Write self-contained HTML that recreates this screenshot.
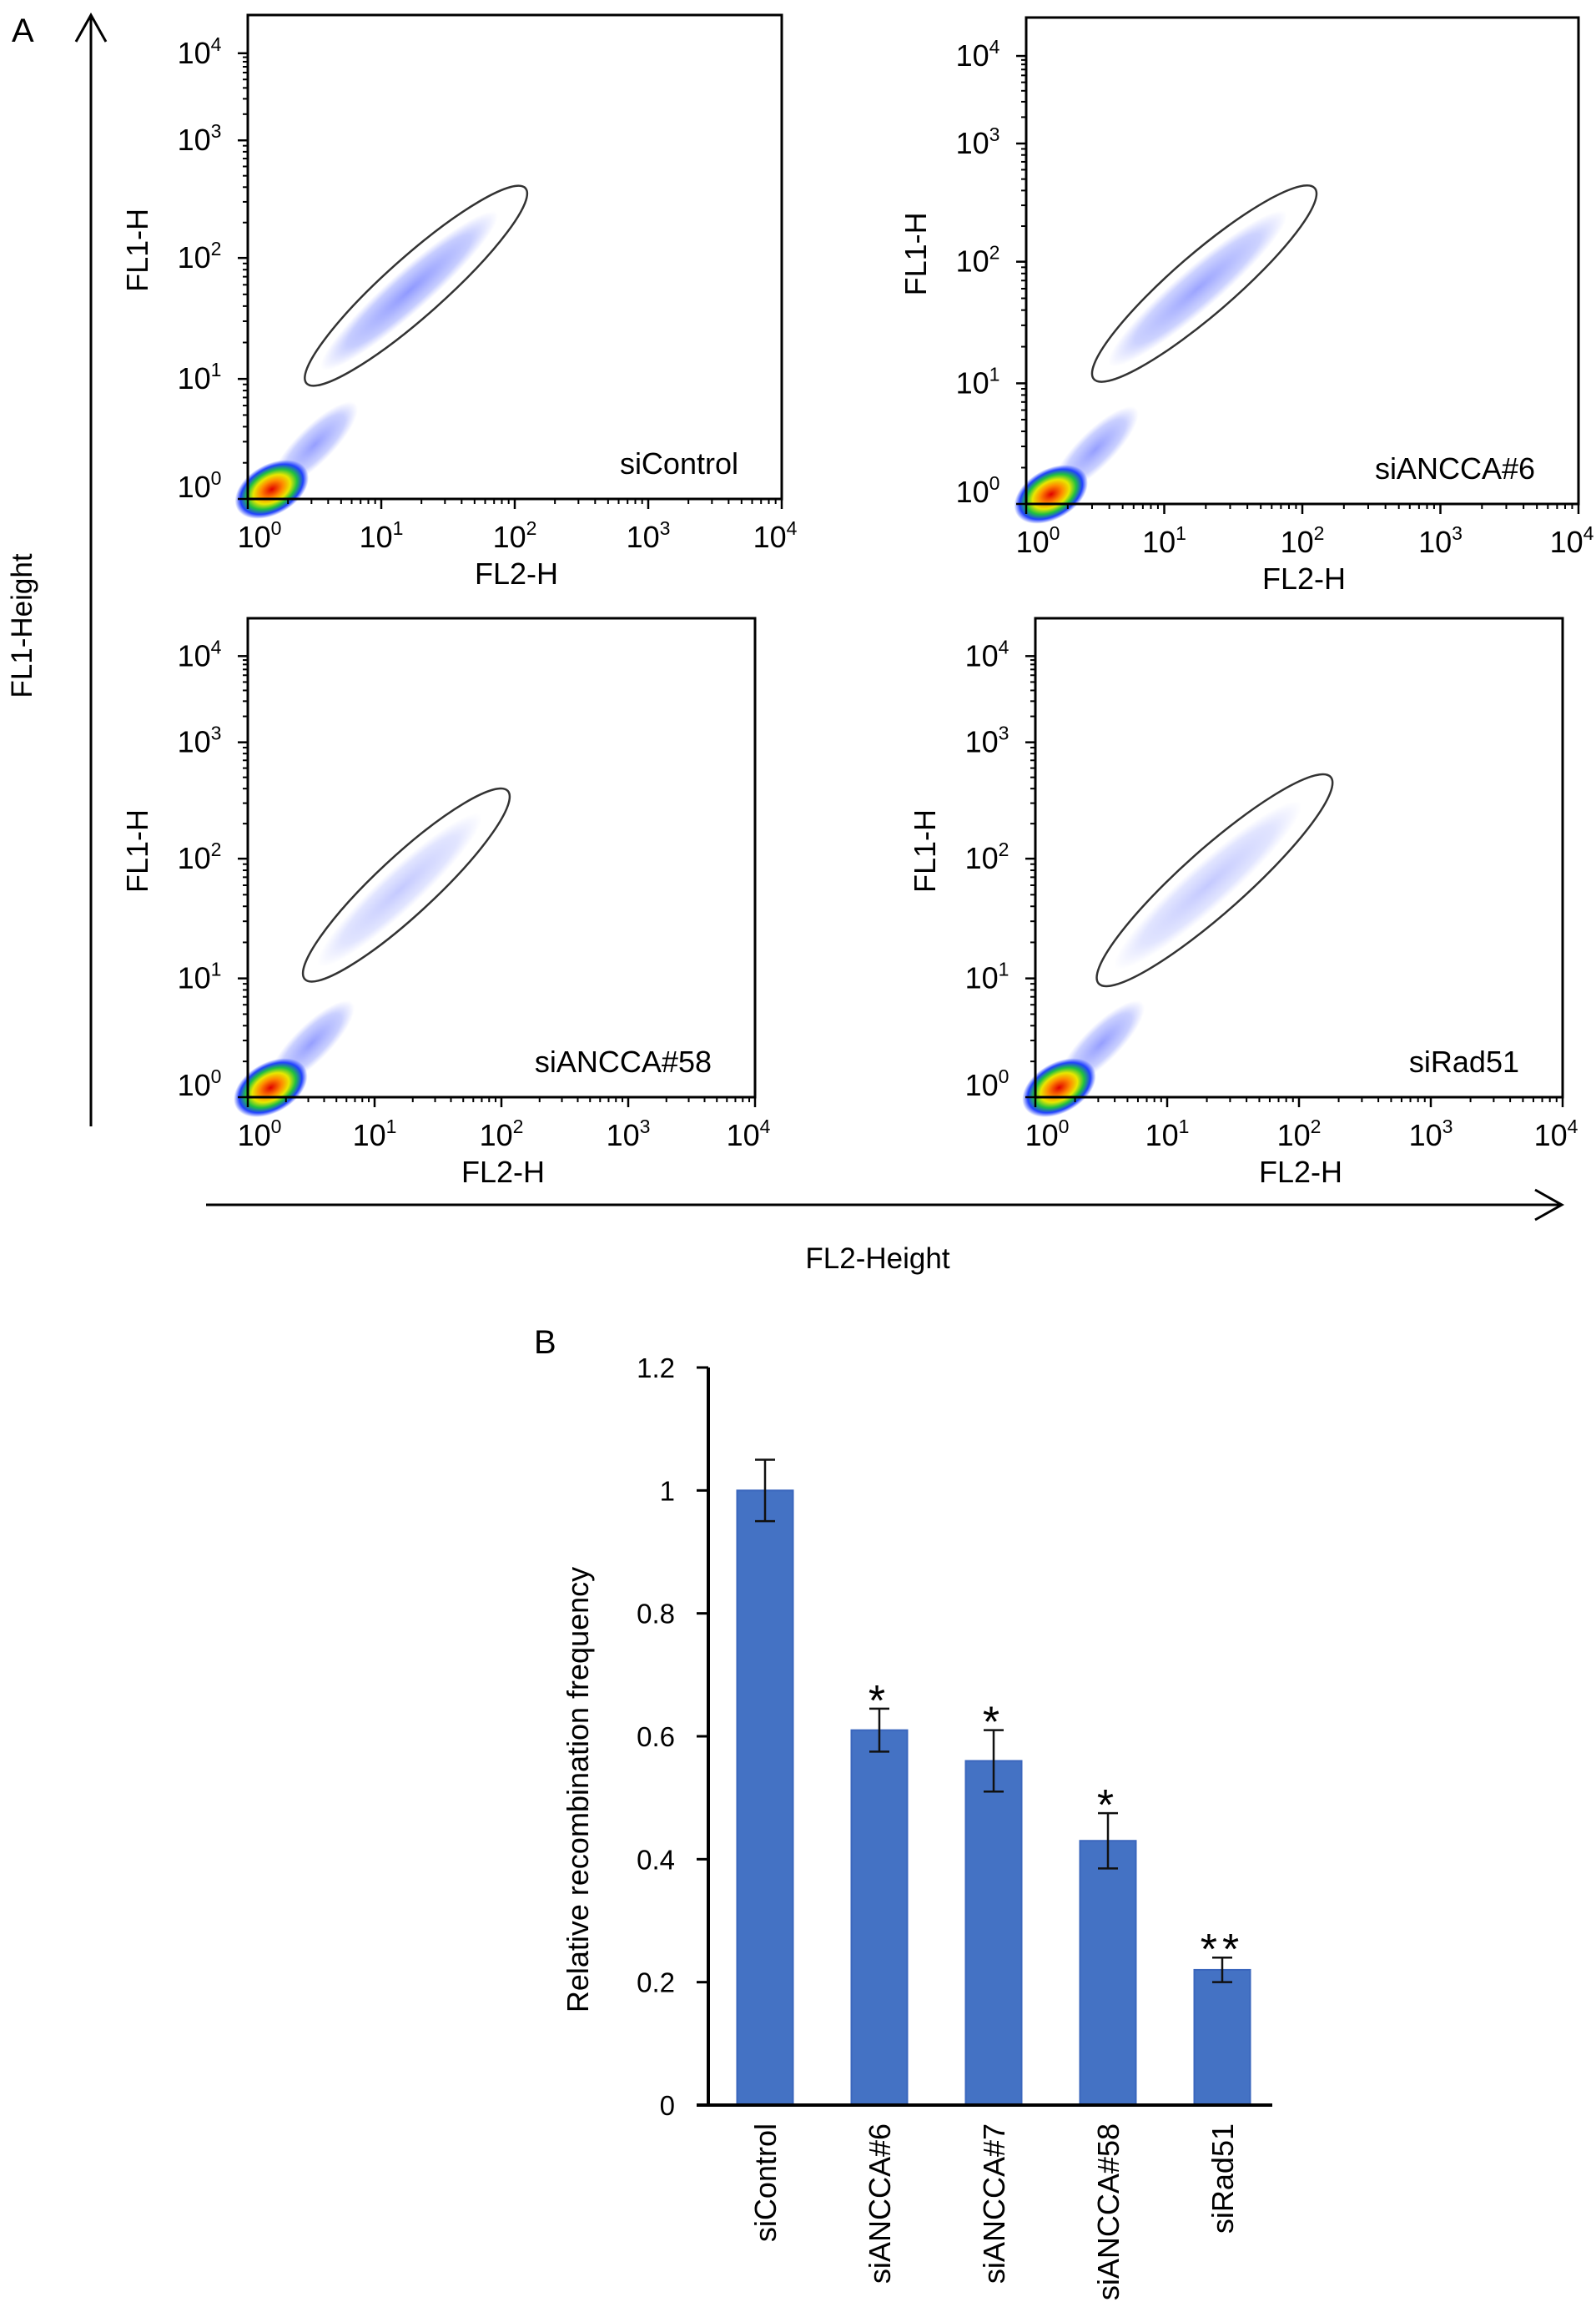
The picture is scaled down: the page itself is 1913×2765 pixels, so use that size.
<!DOCTYPE html>
<html><head><meta charset="utf-8"><style>
html,body{margin:0;padding:0;background:#fff}
svg{display:block}
text{font-family:"Liberation Sans",sans-serif;fill:#000}
</style></head><body>
<svg id="fig" width="1913" height="2765" viewBox="0 0 1913 2765" xmlns="http://www.w3.org/2000/svg">
<defs>
<radialGradient id="core" cx="50%" cy="50%" r="50%">
<stop offset="0" stop-color="#e00000"/><stop offset="0.3" stop-color="#ff8a00"/><stop offset="0.5" stop-color="#e8e800"/><stop offset="0.68" stop-color="#20c040"/><stop offset="0.85" stop-color="#2040ff"/><stop offset="1" stop-color="#2040ff" stop-opacity="0"/>
</radialGradient>
<radialGradient id="cloud" cx="50%" cy="50%" r="50%">
<stop offset="0" stop-color="#2a3cff" stop-opacity="0.55"/><stop offset="0.7" stop-color="#3a50ff" stop-opacity="0.3"/><stop offset="1" stop-color="#5060ff" stop-opacity="0"/>
</radialGradient>
</defs>
<g id="panelA">
<text x="14" y="50" font-size="40">A</text>
<g>
<line x1="109" y1="20" x2="109" y2="1350" stroke="#000" stroke-width="3"/>
<polyline points="91,50 109,18 127,50" fill="none" stroke="#000" stroke-width="3"/>
</g>
<text transform="translate(38,750) rotate(-90)" font-size="35" text-anchor="middle">FL1-Height</text>
<g>
<line x1="247" y1="1444" x2="1870" y2="1444" stroke="#000" stroke-width="3"/>
<polyline points="1840,1426 1872,1444 1840,1462" fill="none" stroke="#000" stroke-width="3"/>
</g>
<text x="1052" y="1520" font-size="35" text-anchor="middle">FL2-Height</text>
</g>
<g id="panelB">
<text x="640" y="1622" font-size="40">B</text>
</g>
</svg>
<script>
var NS="http://www.w3.org/2000/svg";
// ---- Flow panels data ----
var panelNames=["siControl","siANCCA#6","siANCCA#58","siRad51"];
var panelBoxes=[[297,18,937,598],[1230,21,1892,604],[297,741,905,1315],[1241,741,1873,1315]];
var decadeTicks=[0,1,2,3,4];
var yDecadeFrac=[1.0,0.752,0.502,0.259,0.079];
// gate centre (log10 FL2, log10 FL1), half-length and half-width (in decades)
var gateCenterX=[1.26,1.29,1.25,1.36];
var gateCenterY=[1.77,1.82,1.78,1.82];
var gateLen=[0.82,0.8,0.8,0.88];
var gateWid=[0.22,0.22,0.23,0.24];
var cloudStrength=[0.95,0.85,0.5,0.5];

var svg=document.getElementById('fig');
function el(tag,attrs,parent){var e=document.createElementNS(NS,tag);for(var k in attrs)e.setAttribute(k,attrs[k]);(parent||svg).appendChild(e);return e;}

function yFrac(v){
  var i=Math.max(0,Math.min(3,Math.floor(v)));var t=v-i;
  return yDecadeFrac[i]+(yDecadeFrac[i+1]-yDecadeFrac[i])*t;
}
panelNames.forEach(function(name,p){
  var b=panelBoxes[p],L=b[0],T=b[1],R=b[2],B=b[3],W=R-L,H=B-T;
  var g=el('g',{});
  
  
  function X(v){return L+W*v/4;}
  function Y(v){return T+H*yFrac(v);}
  var cx=X(gateCenterX[p]),cy=Y(gateCenterY[p]);
  var x2=X(gateCenterX[p]+gateLen[p]*0.7),y2=Y(gateCenterY[p]+gateLen[p]*0.7);
  var ang=Math.atan2(y2-cy,x2-cx)*180/Math.PI;
  var hl=Math.hypot(x2-cx,y2-cy)/0.7;
  var hw=gateWid[p]*W/4;
  var cl=el('ellipse',{cx:cx-8,cy:cy+6,rx:hl*0.8,ry:hw*0.7,fill:'url(#cloud)',opacity:cloudStrength[p],transform:'rotate('+ang+' '+(cx-8)+' '+(cy+6)+')'},g);
  
  
  var tx=X(0.5),ty=Y(0.45);
  var tl=el('ellipse',{cx:tx,cy:ty,rx:70,ry:22,fill:'url(#cloud)',opacity:0.9,transform:'rotate(-45 '+tx+' '+ty+')'},g);
  
  
  var kx=X(0.18),ky=Y(0.08);
  var core=el('ellipse',{cx:kx,cy:ky,rx:48,ry:30,fill:'url(#core)',transform:'rotate(-30 '+kx+' '+ky+')'},g);
  
  
  var gate=el('ellipse',{cx:cx,cy:cy,rx:hl,ry:hw,fill:'none',stroke:'#333',"stroke-width":2.5,transform:'rotate('+ang+' '+cx+' '+cy+')'},g);
  
  
  var box=el('rect',{x:L,y:T,width:W,height:H,fill:'none',stroke:'#000',"stroke-width":3},g);
  
  
  decadeTicks.forEach(function(d){
    el('line',{x1:X(d),y1:B,x2:X(d),y2:B+12,stroke:'#000',"stroke-width":2.5},g);
    el('line',{x1:L,y1:Y(d),x2:L-12,y2:Y(d),stroke:'#000',"stroke-width":2.5},g);
    if(d<4){for(var m=2;m<10;m++){var f=Math.log10(m);
      el('line',{x1:X(d+f),y1:B,x2:X(d+f),y2:B+6,stroke:'#000',"stroke-width":2},g);
      el('line',{x1:L,y1:Y(d+f),x2:L-6,y2:Y(d+f),stroke:'#000',"stroke-width":2},g);}}
    var xl=el('text',{x:X(d)+(d==0?14:(d==4?-8:0)),y:B+58,"font-size":36,"text-anchor":"middle"},g);
    
    
    xl.innerHTML='10<tspan font-size="23" dy="-15">'+d+'</tspan>';
    var yl=el('text',{x:L-58,y:Y(d)+(d==0?-2:12),"font-size":36,"text-anchor":"middle"},g);
    
    
    yl.innerHTML='10<tspan font-size="23" dy="-15">'+d+'</tspan>';
  });
  var xt=el('text',{x:L+W/2+2,y:B+102,"font-size":36,"text-anchor":"middle"},g);
  
  
  xt.textContent='FL2-H';
  var yt=el('text',{transform:'translate('+(L-120)+','+(T+H*0.486)+') rotate(-90)',"font-size":36,"text-anchor":"middle"},g);
  
  
  yt.textContent='FL1-H';
  var nm=el('text',{x:R-52,y:B-30,"font-size":36,"text-anchor":"end"},g);
  
  
  nm.textContent=name;
});

// ---- Bar chart data ----
var categories=["siControl","siANCCA#6","siANCCA#7","siANCCA#58","siRad51"];
var values=[1.0,0.61,0.56,0.43,0.22];
var errors=[0.05,0.035,0.05,0.045,0.02];
var stars=["","*","*","*","**"];
var yTicks=[0,0.2,0.4,0.6,0.8,1,1.2];
var yTickLabels=["0","0.2","0.4","0.6","0.8","1","1.2"];

var axL=849,axB=2523,axT=1639,axR=1525,yMax=1.2;
var firstCenter=917,band=137,barW=67;
function BY(v){return axB-(axB-axT)*v/yMax;}
function BX(i){return firstCenter+band*i;}
var bg=el('g',{});


values.forEach(function(v,i){
  var r=el('rect',{x:BX(i)-barW/2,y:BY(v),width:barW,height:axB-BY(v),fill:'#4472c4',stroke:'#3a66bd',"stroke-width":2},bg);
  
  
  var e=el('g',{stroke:'#111',"stroke-width":2.5},bg);
  
  
  el('line',{x1:BX(i),y1:BY(v+errors[i]),x2:BX(i),y2:BY(v-errors[i])},e);
  el('line',{x1:BX(i)-12,y1:BY(v+errors[i]),x2:BX(i)+12,y2:BY(v+errors[i])},e);
  el('line',{x1:BX(i)-12,y1:BY(v-errors[i]),x2:BX(i)+12,y2:BY(v-errors[i])},e);
  if(stars[i]){
    var s=el('text',{x:BX(i),y:BY(v+errors[i])+8,"font-size":52,"text-anchor":"middle","letter-spacing":"6"},bg);
    
    
    s.textContent=stars[i];
  }
  var c=el('text',{transform:'translate('+(BX(i)+13)+','+(axB+22)+') rotate(-90)',"font-size":36,"text-anchor":"end"},bg);
  
  
  c.textContent=categories[i];
});
el('line',{x1:axL,y1:axT,x2:axL,y2:axB,stroke:'#000',"stroke-width":4},bg);
el('line',{x1:axL-14,y1:axB,x2:axR,y2:axB,stroke:'#000',"stroke-width":4},bg);
yTicks.forEach(function(t,i){
  el('line',{x1:axL-14,y1:BY(t),x2:axL,y2:BY(t),stroke:'#000',"stroke-width":3},bg);
  var l=el('text',{x:axL-40,y:BY(t)+12,"font-size":33,"text-anchor":"end"},bg);
  
  
  l.textContent=yTickLabels[i];
});
var yt=el('text',{transform:'translate(705,2145) rotate(-90)',"font-size":36,"text-anchor":"middle"},bg);


yt.textContent='Relative recombination frequency';
</script>
</body></html>
